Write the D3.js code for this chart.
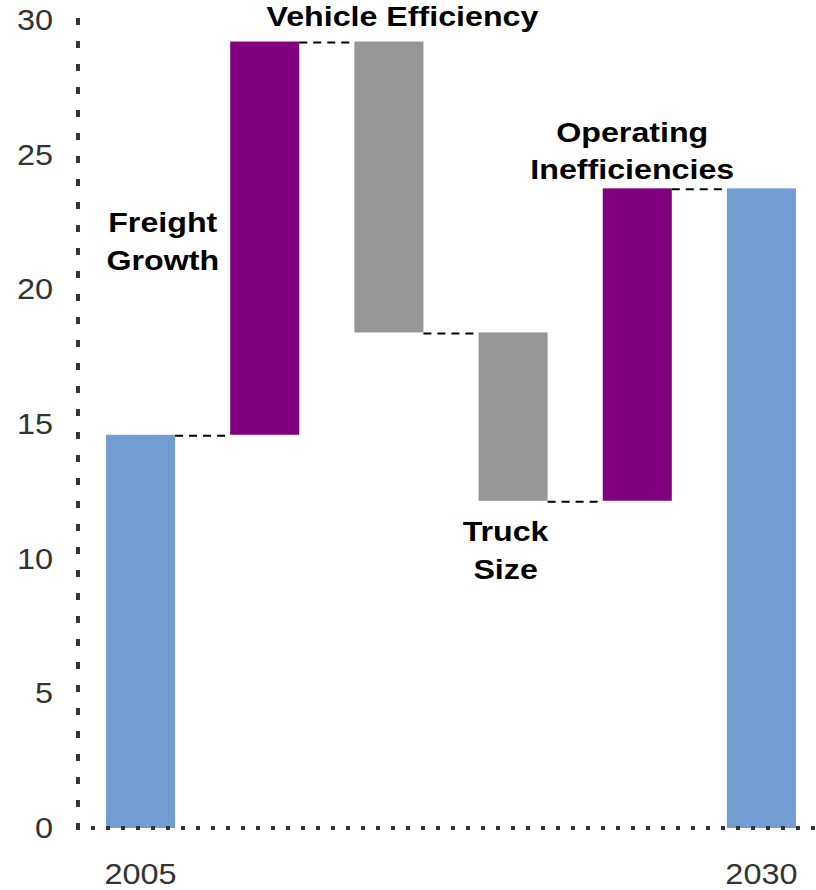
<!DOCTYPE html>
<html><head><meta charset="utf-8">
<script src="https://cdn.jsdelivr.net/npm/d3@7"></script>
<style>body{margin:0;background:#fff}svg{display:block}</style>
</head><body>
<svg id="c" width="816" height="890"></svg>
<script>
const categories = ["2005", "Freight Growth", "Vehicle Efficiency", "Truck Size", "Operating Inefficiencies", "2030"];
const changes = [14.6, 14.6, -10.8, -6.25, 11.6];
const barTypes = ["total", "up", "down", "down", "up", "total"];
const yTicks = [0, 5, 10, 15, 20, 25, 30];
const xLabels = ["2005", "", "", "", "", "2030"];
const annotations = [
  {cat: "Freight Growth", lines: ["Freight", "Growth"], dx: -102, y: [222, 260]},
  {cat: "Vehicle Efficiency", lines: ["Vehicle Efficiency"], dx: 13.5, y: [16]},
  {cat: "Truck Size", lines: ["Truck", "Size"], dx: -7.5, y: [531, 569]},
  {cat: "Operating Inefficiencies", lines: ["Operating", "Inefficiencies"], dx: -5, y: [132, 169]}
];
const colors = {total: "#729dd2", up: "#800080", down: "#969696"};
const FONT = "'Liberation Sans', Arial, sans-serif";
const SX = 1.12;

const segs = [];
let cum = 0;
changes.forEach((d, i) => {
  const start = i === 0 ? 0 : cum;
  cum += d;
  segs.push({cat: categories[i], y0: Math.min(start, cum), y1: Math.max(start, cum), end: cum, type: barTypes[i]});
});
segs.push({cat: categories[5], y0: 0, y1: cum, end: cum, type: barTypes[5]});

const svg = d3.select("#c");
const x = d3.scaleBand().domain(categories).range([81.2, 820.8]).paddingInner(0.444).paddingOuter(0.2);
const y = d3.scaleLinear().domain([0, 30]).range([828, 20]);

svg.selectAll("rect.bar").data(segs).enter().append("rect")
  .attr("x", d => x(d.cat)).attr("width", x.bandwidth())
  .attr("y", d => y(d.y1)).attr("height", d => y(d.y0) - y(d.y1))
  .attr("fill", d => colors[d.type]);

for (let i = 0; i < segs.length - 1; i++) {
  svg.append("line")
    .attr("x1", x(segs[i].cat) + x.bandwidth()).attr("x2", x(segs[i+1].cat))
    .attr("y1", y(segs[i].end) + 1).attr("y2", y(segs[i].end) + 1)
    .attr("stroke", "#000").attr("stroke-width", 2).attr("stroke-dasharray", "8,6");
}

svg.append("line").attr("x1", 78).attr("x2", 78).attr("y1", y(30) - 2).attr("y2", y(0))
  .attr("stroke", "#333").attr("stroke-width", 4).attr("stroke-dasharray", "7,16");
svg.append("line").attr("x1", 76).attr("x2", 816).attr("y1", y(0)).attr("y2", y(0))
  .attr("stroke", "#333").attr("stroke-width", 4).attr("stroke-dasharray", "4,11");

svg.selectAll("text.ytick").data(yTicks).enter().append("text")
  .attr("class", "ytick")
  .attr("transform", d => `translate(53,${y(d)}) scale(${SX},1)`)
  .attr("dy", "0.35em").attr("text-anchor", "end")
  .attr("font-family", FONT).attr("font-size", 29).attr("fill", "#333")
  .text(d => d);

svg.selectAll("text.xlab").data(categories).enter().append("text")
  .attr("class", "xlab")
  .attr("transform", d => `translate(${x(d) + x.bandwidth() / 2},874) scale(${SX},1)`)
  .attr("dy", "0.35em").attr("text-anchor", "middle")
  .attr("font-family", FONT).attr("font-size", 29).attr("fill", "#333")
  .text((d, i) => xLabels[i]);

annotations.forEach(a => {
  a.lines.forEach((t, j) => {
    svg.append("text")
      .attr("transform", `translate(${x(a.cat) + x.bandwidth() / 2 + a.dx},${a.y[j]}) scale(1.15,1)`)
      .attr("dy", "0.35em").attr("text-anchor", "middle")
      .attr("font-family", FONT).attr("font-weight", "bold")
      .attr("font-size", 28).attr("fill", "#000").text(t);
  });
});
</script>
</body></html>
